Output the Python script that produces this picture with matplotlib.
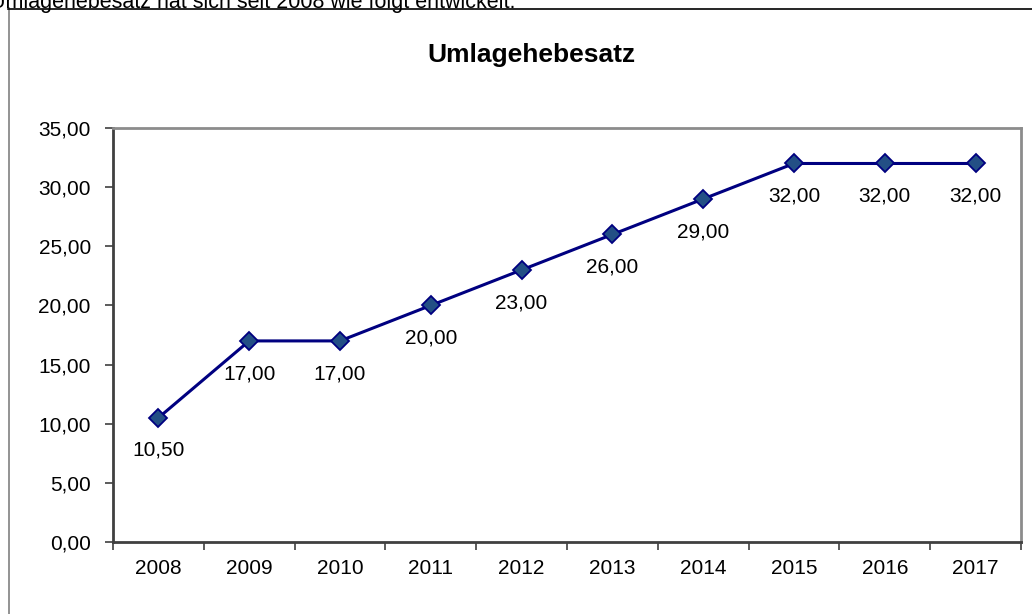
import numpy as np
import matplotlib
matplotlib.use('Agg')
import matplotlib.pyplot as plt
from matplotlib.lines import Line2D

plt.rcParams['font.family'] = ['Liberation Sans', 'DejaVu Sans']

years = ['2008', '2009', '2010', '2011', '2012', '2013', '2014', '2015', '2016', '2017']
rates = [10.50, 17.00, 17.00, 20.00, 23.00, 26.00, 29.00, 32.00, 32.00, 32.00]
y_ticks = [0, 5, 10, 15, 20, 25, 30, 35]

W, H = 1032, 614
fig = plt.figure(figsize=(W / 100, H / 100), dpi=100)
fig.patch.set_facecolor('white')

# plot area in pixel terms
left, right, top, bottom = 113, 1021, 128, 542
ax = fig.add_axes([left / W, (H - bottom) / H, (right - left) / W, (bottom - top) / H])

x = np.arange(len(years))
ax.plot(x, rates, color='#000080', lw=2.2, marker='D', ms=8.7,
        mfc='#234f85', mec='#000080', mew=1.3, zorder=3, clip_on=False)

def fmt(v):
    return f'{v:.2f}'.replace('.', ',')

for xi, v in zip(x, rates):
    ax.annotate(fmt(v), (xi, v), xytext=(0, -23.5), textcoords='offset points',
                ha='center', va='center', fontsize=15, color='black')

ax.set_xlim(-0.5, len(years) - 0.5)
ax.set_ylim(0, 35)
ax.set_yticks(y_ticks)
ax.set_yticklabels([fmt(v) for v in y_ticks])

# category boundaries get tick marks, labels sit in between
ax.set_xticks(np.arange(-0.5, len(years), 1.0))
ax.set_xticklabels([])
ax.set_xticks(x, minor=True)
ax.set_xticklabels(years, minor=True)
ax.tick_params(axis='x', which='major', direction='out', length=6, width=1.2, color='#404040')
ax.tick_params(axis='x', which='minor', length=0, pad=12, labelsize=15)
ax.tick_params(axis='y', direction='out', length=6, width=1.2, color='#404040', pad=10, labelsize=15)

for s in ['left', 'bottom']:
    ax.spines[s].set_color('#404040')
    ax.spines[s].set_linewidth(2)
for s in ['top', 'right']:
    ax.spines[s].set_color('#8c8c8c')
    ax.spines[s].set_linewidth(2)

fig.text(531 / W, 1 - 55 / H, 'Umlagehebesatz', ha='center', va='center',
         fontsize=19, fontweight='bold')

# outer chart frame (runs off the right and bottom edges)
fig.add_artist(Line2D([8.5 / W, 8.5 / W], [1 - 8 / H, 0], transform=fig.transFigure,
                      color='#808080', lw=1.2))
fig.add_artist(Line2D([8 / W, 1], [1 - 8.5 / H, 1 - 8.5 / H], transform=fig.transFigure,
                      color='black', lw=1.2))

# surrounding sentence, cut off at the top of the image
fig.text(515 / W, 1 - 8 / H, 'Umlagehebesatz hat sich seit 2008 wie folgt entwickelt.',
         ha='right', va='baseline', fontsize=15.5)

fig.savefig('out.png', dpi=100)
